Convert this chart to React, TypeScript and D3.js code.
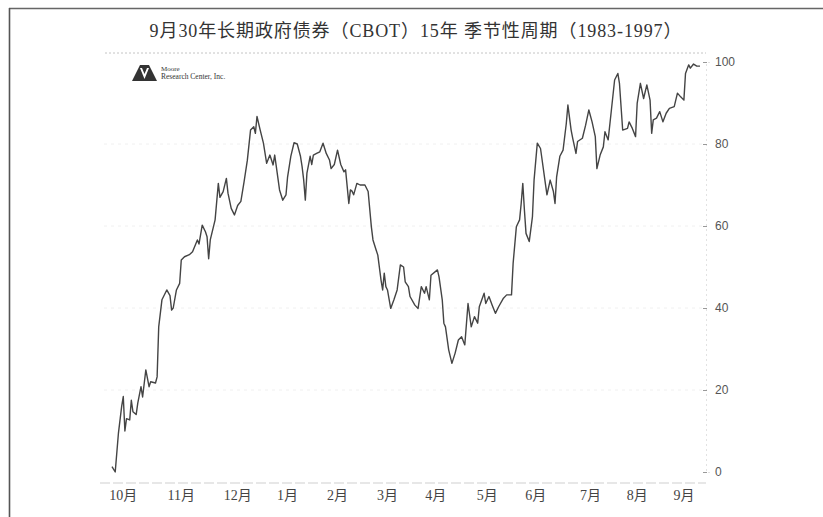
import React, { useEffect, useRef } from 'react';
import * as d3 from 'd3';

// calendar day since season start (Oct) and seasonal index value
const seasonDays = [
  0, 2, 4, 6, 7, 8, 9, 11, 12, 13, 15, 16, 18, 19, 21, 23, 24, 27, 28, 29,
  31, 34, 36, 37, 38, 40, 42, 43, 45, 48, 50, 53, 54, 56, 58, 59, 60, 61, 64, 66,
  67, 69, 71, 72, 74, 76, 78, 80, 82, 84, 86, 88, 89, 90, 92, 94, 96, 98, 100, 101,
  102, 104, 106, 108, 109, 111, 113, 115, 117, 118, 119, 120, 121, 123, 124, 125, 127, 129, 131, 133,
  135, 136, 138, 140, 142, 144, 145, 146, 147, 148, 149, 150, 152, 154, 157, 159, 161, 162, 164, 165,
  167, 168, 169, 170, 171, 173, 175, 177, 179, 181, 182, 184, 185, 188, 190, 192, 194, 195, 197, 198,
  202, 203, 205, 206, 207, 209, 211, 213, 215, 217, 219, 221, 223, 225, 227, 228, 231, 232, 234, 236,
  238, 240, 243, 245, 248, 249, 251, 253, 254, 255, 256, 257, 259, 261, 262, 264, 266, 267, 269, 270,
  272, 274, 275, 276, 278, 280, 282, 283, 285, 286, 288, 289, 292, 294, 296, 298, 300, 301, 303, 305,
  306, 308, 310, 312, 314, 315, 317, 320, 321, 323, 325, 326, 328, 330, 332, 334, 335, 336, 338, 340,
  342, 344, 346, 349, 351, 353, 355, 356, 358, 359, 361, 363, 365
];

const seasonalIndex = [
  1.3, 0, 9.5, 16, 18.4, 10, 13, 12.7, 17.5, 14.7, 14, 16.8, 20.8, 18.3, 24.9, 20.8, 22, 21.7, 23.2, 35.4,
  42, 44.4, 43, 39.5, 40, 44.4, 46, 51.7, 52.5, 53, 53.7, 56.6, 55.6, 60.2, 58.6, 57.4, 52, 56.6, 61.5, 70.4,
  67, 68.4, 71.6, 68, 64.3, 62.7, 65, 66, 70.8, 76, 83.4, 84.2, 82.6, 86.7, 83.4, 80.2, 75.3, 77.3, 74.9, 77.3,
  74.5, 68.8, 66.3, 67.6, 72, 77, 80.3, 80, 77, 74.5, 71.2, 66.3, 72.9, 77, 75, 77.3, 77.7, 78.1, 80.2, 77.7,
  76.1, 74, 75, 78.5, 75, 73.2, 73.7, 69.6, 65.5, 68.8, 68.5, 67.6, 70.4, 70, 70, 68.4, 59.8, 56.6, 54.1, 52.9,
  46.8, 44.4, 48.5, 45.2, 44.4, 39.9, 42, 44.4, 50.5, 50, 46.4, 45.2, 42.8, 40.7, 39.9, 45.2, 43.6, 45.2, 42, 48,
  49.3, 47.6, 42, 36.3, 35.4, 29.8, 26.5, 29, 32.2, 33, 31, 41.1, 35.4, 37.9, 36.3, 40.3, 43.6, 41.1, 42.8, 40.7,
  38.7, 40.3, 42.4, 43.2, 43.2, 50.9, 59.8, 61.5, 65.5, 70.4, 63.9, 58.2, 56.2, 62.3, 71.2, 80.2, 78.9, 76.1, 70.4, 67.6,
  71.2, 68.4, 65.5, 72, 77, 78.5, 85, 89.5, 83.4, 81.4, 77.7, 80.6, 81.4, 84.6, 88.3, 85.4, 81.8, 74, 77.3, 79.3,
  83, 81, 88.3, 95.6, 97.2, 94.8, 83.4, 83.8, 85.4, 83.8, 81.8, 89.9, 94.8, 91.1, 94.4, 90.7, 82.6, 85.9, 86.3, 87.9,
  85.4, 87.5, 88.7, 89.1, 92.4, 91.5, 90.7, 97.2, 99.3, 98.5, 99.5, 99, 99
];

const monthLabels = ['10月', '11月', '12月', '1月', '2月', '3月', '4月', '5月', '6月', '7月', '8月', '9月'];
const monthLabelDays = [7, 43, 78, 109, 140, 171, 201, 233, 263, 297, 326, 355];
const yTicks = [0, 20, 40, 60, 80, 100];

const chartTitle = '9月30年长期政府债券（CBOT）15年 季节性周期（1983-1997）';

const App: React.FC = () => {
  const svgRef = useRef<SVGSVGElement | null>(null);

  useEffect(() => {
    if (!svgRef.current) return;
    const svg = d3.select(svgRef.current);
    svg.selectAll('*').remove();

    const width = 823;
    const height = 517;
    const plot = { left: 112, right: 700, top: 62, bottom: 472 };

    const x = d3.scaleLinear().domain([0, 365]).range([plot.left, plot.right]);
    const y = d3.scaleLinear().domain([0, 100]).range([plot.bottom, plot.top]);

    svg.append('rect').attr('width', width).attr('height', height).attr('fill', '#fff');

    // page frame (top and left edges)
    svg.append('line')
      .attr('x1', 9).attr('x2', width).attr('y1', 8.5).attr('y2', 8.5)
      .attr('stroke', '#666').attr('stroke-width', 1.5);
    svg.append('line')
      .attr('x1', 9.5).attr('x2', 9.5).attr('y1', 8).attr('y2', height)
      .attr('stroke', '#555').attr('stroke-width', 1.6);

    // title
    svg.append('text')
      .attr('x', 416).attr('y', 37)
      .attr('text-anchor', 'middle')
      .attr('font-family', '"Liberation Serif", "Noto Sans CJK SC", serif')
      .attr('font-size', 18)
      .attr('letter-spacing', 0.9)
      .attr('fill', '#333')
      .text(chartTitle);

    // dotted rule under title
    svg.append('line')
      .attr('x1', 105).attr('x2', 706).attr('y1', 53).attr('y2', 53)
      .attr('stroke', '#c4c4c4').attr('stroke-width', 1).attr('stroke-dasharray', '2,2');

    // light gridlines
    svg.append('g')
      .selectAll('line')
      .data(yTicks.filter(d => d > 0 && d < 100))
      .join('line')
      .attr('x1', plot.left - 8).attr('x2', plot.right + 5)
      .attr('y1', d => y(d)).attr('y2', d => y(d))
      .attr('stroke', '#f0f0f0').attr('stroke-width', 1).attr('stroke-dasharray', '3,4');

    // bottom axis line
    svg.append('line')
      .attr('x1', 100).attr('x2', 706).attr('y1', 483).attr('y2', 483)
      .attr('stroke', '#cfcfcf').attr('stroke-width', 1).attr('stroke-dasharray', '10,3');

    // right axis
    const yAxis = svg.append('g')
      .attr('transform', `translate(${plot.right + 6},0)`)
      .call(d3.axisRight(y).tickValues(yTicks).tickSize(4).tickPadding(5));
    yAxis.select('.domain').attr('stroke', '#e2e2e2').attr('stroke-dasharray', '2,3');
    yAxis.selectAll('.tick line').attr('stroke', '#999').attr('transform', 'translate(-3,0)');
    yAxis.selectAll('.tick text')
      .attr('font-family', '"Liberation Sans", Arial, sans-serif')
      .attr('font-size', 12)
      .attr('fill', '#555');

    // month labels
    svg.append('g')
      .selectAll('text')
      .data(monthLabels)
      .join('text')
      .attr('x', (d, i) => x(monthLabelDays[i]))
      .attr('y', 500)
      .attr('text-anchor', 'middle')
      .attr('font-family', '"Liberation Serif", "Noto Sans CJK SC", serif')
      .attr('font-size', 14)
      .attr('fill', '#444')
      .text(d => d);

    // logo
    const logo = svg.append('g').attr('transform', 'translate(132,65)');
    logo.append('path')
      .attr('d', 'M0,16 L8,0 L12,0 L12.5,0 L12.5,16 Z M12.5,0 L17,0 L25,16 L12.5,16 Z')
      .attr('fill', '#333');
    logo.append('path')
      .attr('d', 'M8,3 L12.5,14 L17,3 L15,3 L12.5,9 L10,3 Z')
      .attr('fill', '#fff');
    logo.append('text')
      .attr('x', 29).attr('y', 6)
      .attr('font-family', '"Liberation Serif", serif')
      .attr('font-size', 7).attr('fill', '#333')
      .text('Moore');
    logo.append('text')
      .attr('x', 29).attr('y', 14)
      .attr('font-family', '"Liberation Serif", serif')
      .attr('font-size', 7.5).attr('fill', '#333')
      .text('Research Center, Inc.');

    // seasonal line
    const line = d3.line<number>()
      .x((d, i) => x(seasonDays[i]))
      .y(d => y(d));

    svg.append('path')
      .datum(seasonalIndex)
      .attr('fill', 'none')
      .attr('stroke', '#444')
      .attr('stroke-width', 1.4)
      .attr('stroke-linejoin', 'round')
      .attr('d', line);
  }, []);

  return (
    <svg
      ref={svgRef}
      width={823}
      height={517}
      style={{ position: 'absolute', left: 0, top: 0, display: 'block' }}
    />
  );
};

export default App;
